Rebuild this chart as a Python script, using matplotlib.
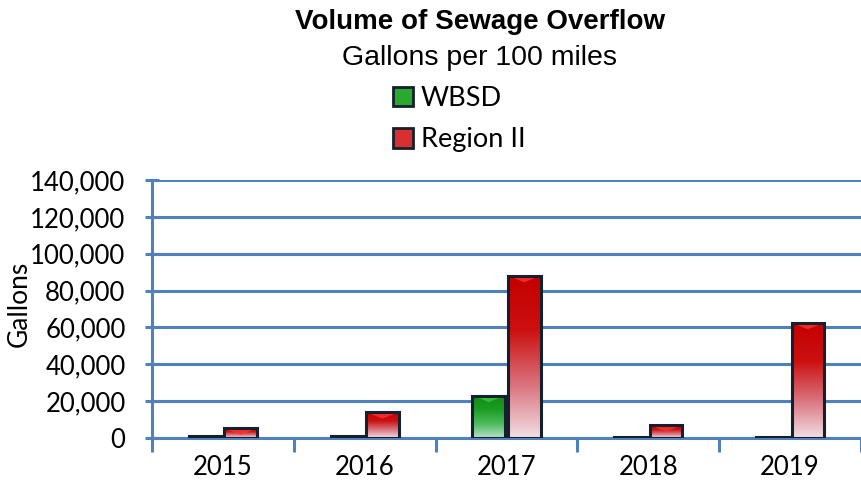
import numpy as np
import matplotlib.pyplot as plt
from matplotlib.patches import Rectangle, Polygon
from matplotlib.colors import LinearSegmentedColormap
from matplotlib.ticker import FuncFormatter

years = ["2015", "2016", "2017", "2018", "2019"]
wbsd = [1000, 1000, 23000, 500, 500]
region2 = [5200, 14000, 88000, 7000, 62500]

grid_blue = "#4F81BD"
edge_dark = "#15202e"

red_cmap = LinearSegmentedColormap.from_list("red", ["#f2dde3", "#d9707a", "#cc1010", "#c40000"])
green_cmap = LinearSegmentedColormap.from_list("green", ["#b8e0c8", "#4cbb5c", "#1c9c22", "#128a18"])

fig = plt.figure(figsize=(8.61, 4.95), dpi=100)
ax = fig.add_axes([0.1765, 0.1152, 0.8235, 0.5212])

x = np.arange(len(years))
w = 0.23
gap = 0.02


def gradient_bar(ax, xc, h, cmap, top_color):
    left = xc - w / 2
    grad = np.linspace(0, 1, 100).reshape(-1, 1)
    im = ax.imshow(grad, cmap=cmap, origin="lower", aspect="auto",
                   extent=(left, left + w, 0, h), zorder=3)
    rect = Rectangle((left, 0), w, h, facecolor="none", edgecolor=edge_dark,
                     linewidth=2.2, zorder=4)
    ax.add_patch(rect)
    im.set_clip_path(rect)
    # bevel highlight at top
    th = min(h, 3500)
    tri = Polygon([(left, h), (left + w, h), (left + w / 2, h - th)],
                  closed=True, facecolor=top_color, edgecolor="none", alpha=0.85, zorder=3.5)
    ax.add_patch(tri)
    tri.set_clip_path(rect)


for i in x:
    gradient_bar(ax, i - w / 2 - gap / 2, wbsd[i], green_cmap, "#38c838")
    gradient_bar(ax, i + w / 2 + gap / 2, region2[i], red_cmap, "#ff3030")

ax.set_xlim(-0.5, len(years) - 0.5)
ax.set_ylim(0, 140000)
ax.set_yticks(np.arange(0, 140001, 20000))
ax.yaxis.set_major_formatter(FuncFormatter(lambda v, p: f"{int(v):,}"))
ax.set_xticks(x)
ax.set_xticklabels(years)
ax.set_xticks(np.arange(-0.5, len(years)), minor=True)

ax.grid(axis="y", color=grid_blue, linewidth=2.2, zorder=1)
ax.set_axisbelow(True)
for s in ["top", "right"]:
    ax.spines[s].set_visible(False)
ax.spines["left"].set_color(grid_blue)
ax.spines["left"].set_linewidth(2.2)
ax.spines["bottom"].set_color(grid_blue)
ax.spines["bottom"].set_linewidth(2.2)

ax.tick_params(axis="y", direction="inout", length=10, width=2.2, color=grid_blue,
               labelsize=18.5, pad=14)
ax.tick_params(axis="x", which="major", length=0, labelsize=18.5, pad=12)
ax.tick_params(axis="x", which="minor", direction="out", length=10, width=2.2, color=grid_blue)
for lbl in ax.get_xticklabels() + ax.get_yticklabels():
    lbl.set_fontfamily("Lato")

ax.set_ylabel("Gallons", fontsize=19, fontfamily="Lato")
ax.yaxis.set_label_coords(-0.170, 0.52)

fig.text(0.557, 0.955, "Volume of Sewage Overflow", ha="center", va="center",
         fontsize=20, fontweight="bold", fontfamily="Liberation Sans")
fig.text(0.557, 0.882, "Gallons per 100 miles", ha="center", va="center",
         fontsize=20.5, fontfamily="Liberation Sans")

handles = [Rectangle((0, 0), 1, 1, facecolor="#2aa830", edgecolor=edge_dark, linewidth=2),
           Rectangle((0, 0), 1, 1, facecolor="#d83030", edgecolor=edge_dark, linewidth=2)]
leg = fig.legend(handles, ["WBSD", "Region II"], loc="center left",
                 bbox_to_anchor=(0.441, 0.759), frameon=False,
                 prop={"family": "Lato", "size": 19.5}, handlelength=0.72, handleheight=0.72,
                 handletextpad=0.3, labelspacing=0.6, borderpad=0)

fig.savefig("out.png", dpi=100)
